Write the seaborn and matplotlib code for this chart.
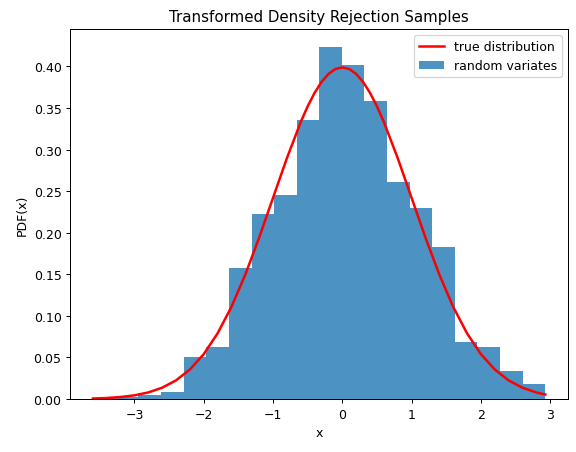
import numpy as np
import matplotlib
matplotlib.use('Agg')
import matplotlib.pyplot as plt
import seaborn as sns

# histogram bins
bin_edges = [-3.60, -3.27, -2.95, -2.62, -2.29, -1.97, -1.64, -1.31, -0.99,
             -0.66, -0.33, -0.007, 0.32, 0.65, 0.97, 1.30, 1.63, 1.95,
             2.28, 2.61, 2.93]
bin_heights = [0.001, 0.002, 0.005, 0.009, 0.050, 0.062, 0.158, 0.222,
               0.245, 0.336, 0.424, 0.402, 0.359, 0.261, 0.230, 0.183,
               0.069, 0.062, 0.034, 0.018]

# true distribution curve
curve_x = [-3.6, -3.4, -3.2, -3.0, -2.8, -2.6, -2.4, -2.2, -2.0, -1.8,
           -1.6, -1.4, -1.2, -1.0, -0.8, -0.6, -0.5, -0.4, -0.3, -0.2,
           -0.1, 0.0, 0.1, 0.2, 0.3, 0.4, 0.5, 0.6, 0.8, 1.0, 1.2, 1.4,
           1.6, 1.8, 2.0, 2.2, 2.4, 2.6, 2.8, 2.93]
curve_y = [0.0006, 0.0012, 0.0024, 0.0044, 0.0079, 0.0136, 0.0224,
           0.0355, 0.0540, 0.0790, 0.1109, 0.1497, 0.1942, 0.2420,
           0.2897, 0.3332, 0.3521, 0.3683, 0.3814, 0.3910, 0.3970,
           0.3989, 0.3970, 0.3910, 0.3814, 0.3683, 0.3521, 0.3332,
           0.2897, 0.2420, 0.1942, 0.1497, 0.1109, 0.0790, 0.0540,
           0.0355, 0.0224, 0.0136, 0.0079, 0.0054]

centers = [(a + b) / 2 for a, b in zip(bin_edges[:-1], bin_edges[1:])]

fig, ax = plt.subplots(figsize=(6.4, 5.033), dpi=90)
fig.subplots_adjust(left=0.122, right=0.986, top=0.934, bottom=0.117)
ax.plot(curve_x, curve_y, color='r', lw=2, label='true distribution')
sns.histplot(x=centers, weights=bin_heights, bins=bin_edges, stat='count',
             color='C0', alpha=0.8, edgecolor=None, linewidth=0,
             label='random variates', ax=ax)
ax.set_title('Transformed Density Rejection Samples')
ax.set_xlabel('x')
ax.set_ylabel('PDF(x)')
ax.legend()
fig.savefig('out.png')
